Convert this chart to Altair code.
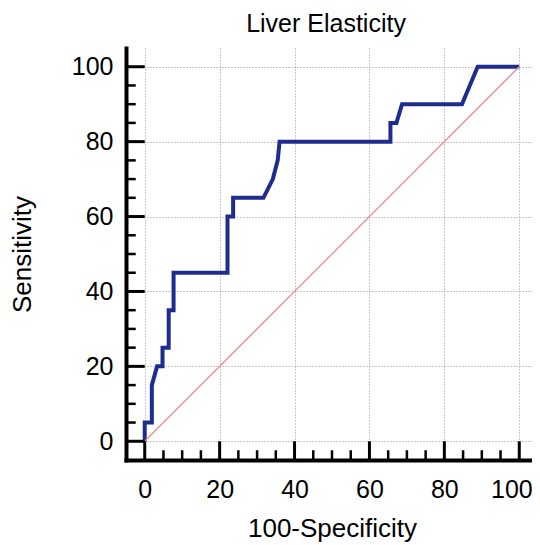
import altair as alt
import pandas as pd

# ROC curve
fpr = [0, 0, 1.9, 1.9, 3.3, 4.75, 4.75, 6.4, 6.4, 7.7, 7.7, 22.1, 22.1, 23.6, 23.6,
       31.7, 34.2, 35.5, 36.0, 65.6, 65.6, 67.2, 68.7, 84.7, 88.9, 100]
tpr = [0, 5, 5, 15, 20, 20, 25, 25, 35, 35, 45, 45, 60, 60, 65,
       65, 70, 75, 80, 80, 85, 85, 90, 90, 100, 100]

diag_x = [0, 100]
diag_y = [0, 100]

major_ticks = [0, 20, 40, 60, 80, 100]
minor_ticks = [5, 10, 15, 25, 30, 35, 45, 50, 55, 65, 70, 75, 85, 90, 95]

FONT = "Liberation Sans"
XDOM = [-5, 103.4]
YDOM = [-5, 105]

roc_df = pd.DataFrame({"x": fpr, "y": tpr, "i": list(range(len(fpr)))})
diag_df = pd.DataFrame({"x": diag_x, "y": diag_y})
major_df = pd.DataFrame({"v": major_ticks})
minor_df = pd.DataFrame({"v": minor_ticks})

xscale = alt.Scale(domain=XDOM, nice=False, zero=False)
yscale = alt.Scale(domain=YDOM, nice=False, zero=False)

xaxis = alt.Axis(
    values=major_ticks, ticks=False, grid=True, gridDash=[1, 2], gridColor="#959595",
    gridWidth=1, domain=True, domainColor="black", domainWidth=4, domainCap="square",
    labelFont=FONT, labelFontSize=25, labelColor="black", labelPadding=17,
    labelAlign={"expr": "datum.value == 100 ? 'right' : 'center'"},
    labelOffset={"expr": "datum.value == 100 ? 13 : 0"},
    labelBound=False, labelOverlap=False,
    title="100-Specificity", titleFont=FONT, titleFontSize=26, titleFontWeight="normal",
    titleColor="black", titleX=206, titleY=76, titleBaseline="alphabetic", titleAlign="center",
)
yaxis = alt.Axis(
    values=major_ticks, ticks=False, grid=True, gridDash=[1, 2], gridColor="#959595",
    gridWidth=1, domain=True, domainColor="black", domainWidth=4, domainCap="square",
    labelFont=FONT, labelFontSize=25, labelColor="black", labelPadding=13,
    title="Sensitivity", titleFont=FONT, titleFontSize=26, titleFontWeight="normal",
    titleColor="black", titleX=-96, titleY=206, titleBaseline="alphabetic", titleAlign="center",
    titleAngle=270,
)

base_roc = alt.Chart(roc_df).mark_line(color="#1F2C8F", strokeWidth=4, strokeJoin="miter").encode(
    x=alt.X("x:Q", scale=xscale, axis=xaxis),
    y=alt.Y("y:Q", scale=yscale, axis=yaxis),
    order="i:Q",
)

diag = alt.Chart(diag_df).mark_line(strokeWidth=1.3).encode(
    x=alt.X("x:Q", scale=xscale),
    y=alt.Y("y:Q", scale=yscale),
    color=alt.value("#F08C8C"),
)

x_major = alt.Chart(major_df).mark_rule(color="black", strokeWidth=3).encode(
    x=alt.X("v:Q", scale=xscale), y=alt.datum(-5), y2=alt.datum(0)
)
x_minor = alt.Chart(minor_df).mark_rule(color="black", strokeWidth=2.5).encode(
    x=alt.X("v:Q", scale=xscale), y=alt.datum(-5), y2=alt.datum(-2.4)
)
y_major = alt.Chart(major_df).mark_rule(color="black", strokeWidth=3).encode(
    y=alt.Y("v:Q", scale=yscale), x=alt.datum(-5), x2=alt.datum(0)
)
y_minor = alt.Chart(minor_df).mark_rule(color="black", strokeWidth=2.5).encode(
    y=alt.Y("v:Q", scale=yscale), x=alt.datum(-5), x2=alt.datum(-2.4)
)

chart = alt.layer(base_roc, diag, x_major, x_minor, y_major, y_minor).properties(
    width=406,
    height=412,
    autosize=alt.AutoSizeParams(type="none"),
    padding={"left": 118, "top": 40, "right": 0, "bottom": 84},
    title=alt.TitleParams(
        "Liver Elasticity", font=FONT, fontSize=25, fontWeight="normal", color="black",
        anchor="middle", baseline="alphabetic", offset=16, dy=25, dx=-3,
    ),
).configure_view(stroke=None).configure_axis(zindex=0)

chart.save("out.html", embed_options={"renderer": "svg", "actions": False})
